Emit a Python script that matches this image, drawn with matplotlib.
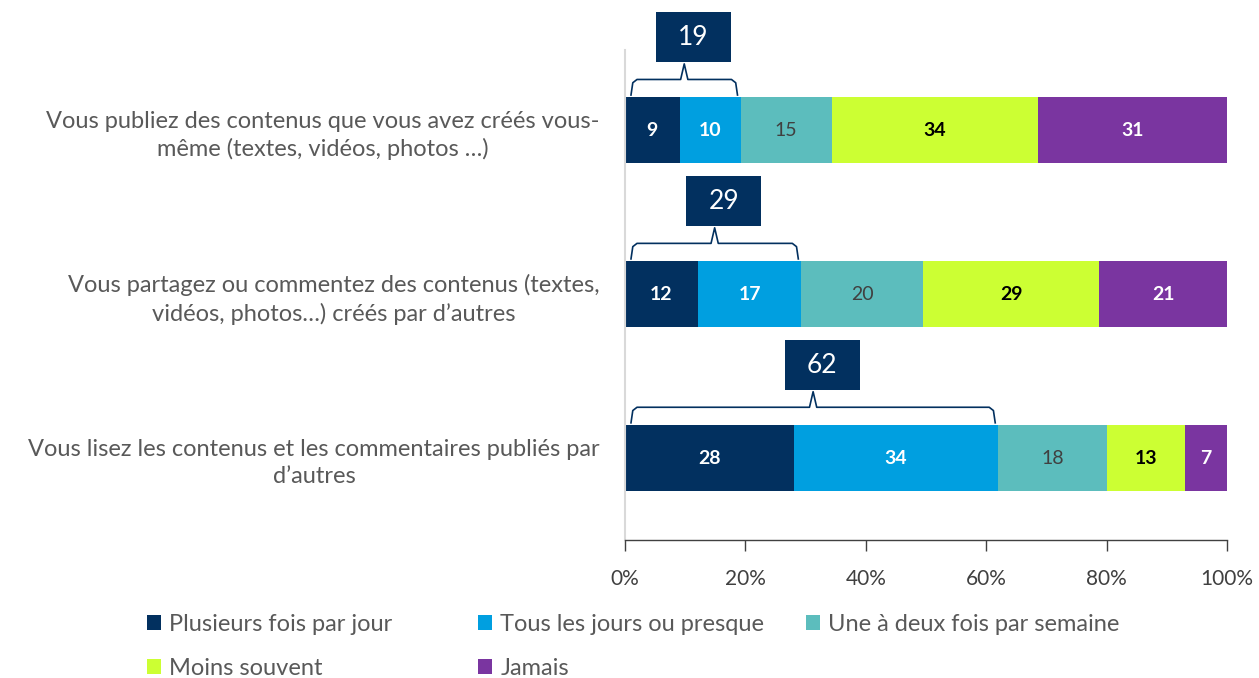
import matplotlib
matplotlib.use("Agg")
import matplotlib.pyplot as plt
from matplotlib.patches import Patch, Rectangle
from matplotlib.ticker import FuncFormatter

plt.rcParams['font.family'] = ['Lato', 'DejaVu Sans']

categories = [
    "Vous publiez des contenus que vous avez créés vous-\nmême (textes, vidéos, photos …)",
    "Vous partagez ou commentez des contenus (textes,\nvidéos, photos…) créés par d’autres",
    "Vous lisez les contenus et les commentaires publiés par\nd’autres",
]
series_names = ["Plusieurs fois par jour", "Tous les jours ou presque",
                "Une à deux fois par semaine", "Moins souvent", "Jamais"]
plusieurs = [9, 12, 28]
tous_jours = [10, 17, 34]
hebdo = [15, 20, 18]
moins = [34, 29, 13]
jamais = [31, 21, 7]
totals = [19, 29, 62]
xticks = [0, 20, 40, 60, 80, 100]

colors = ["#02305F", "#009FE0", "#5CBDBD", "#CCFF33", "#7A35A0"]
label_colors = ["white", "white", "#404040", "black", "white"]
label_weights = ["bold", "bold", "normal", "bold", "bold"]

fig = plt.figure(figsize=(12.59, 6.78), dpi=100)
ax = fig.add_axes([0.4964, 0.2035, 0.4782, 0.7228])

ypos = list(range(len(categories)))
series = [plusieurs, tous_jours, hebdo, moins, jamais]
row_sums = [sum(s[i] for s in series) for i in ypos]
left = [0.0] * len(categories)
for vals, col, lc, lw in zip(series, colors, label_colors, label_weights):
    widths = [v / rs * 100 for v, rs in zip(vals, row_sums)]
    bars = ax.barh(ypos, widths, left=left, height=0.4, color=col, edgecolor='none')
    for b, v in zip(bars, vals):
        ax.text(b.get_x() + b.get_width() / 2, b.get_y() + b.get_height() / 2, str(v),
                ha='center', va='center', color=lc, fontsize=14, fontweight=lw)
    left = [l + w for l, w in zip(left, widths)]

# brackets with total boxes
c = "#02305F"
for y, tot, p1, p2, rs in zip(ypos, totals, plusieurs, tous_jours, row_sums):
    xend = (p1 + p2) / rs * 100
    x0, x1 = 1.0, xend - 0.5
    xm = (x0 + x1) / 2
    yend = y - 0.215
    yh = y - 0.31
    ypk = y - 0.405
    ax.plot([x0, x0 + 0.3, x0 + 1.0, xm - 0.6, xm, xm + 0.6, x1 - 1.0, x1 - 0.3, x1],
            [yend, yh + 0.02, yh, yh, ypk, yh, yh, yh + 0.02, yend],
            color=c, lw=1.2, solid_joinstyle='round', clip_on=False)
    bx = xm + 1.5
    ax.add_patch(Rectangle((bx - 6.25, y - 0.567 - 0.152), 12.5, 0.305,
                           facecolor=c, edgecolor='none', clip_on=False))
    ax.text(bx, y - 0.567, str(tot), ha='center', va='center', color='white',
            fontsize=19, clip_on=False)

ax.set_ylim(2.5, -0.49)
ax.set_xlim(0, 100)
ax.set_yticks(ypos)
ax.set_yticklabels(categories, fontsize=17, color="#595959", ha='right',
                   multialignment='center', linespacing=1.35)
ax.tick_params(axis='y', length=0, pad=18)
ax.set_xticks(xticks)
ax.xaxis.set_major_formatter(FuncFormatter(lambda v, p: f"{int(v)}%"))
ax.tick_params(axis='x', length=8, width=1, color="#404040", labelsize=15,
               labelcolor="#404040", pad=13)
for s in ['top', 'right']:
    ax.spines[s].set_visible(False)
ax.spines['left'].set_color("#D9D9D9")
ax.spines['left'].set_linewidth(1.5)
ax.spines['bottom'].set_color("#404040")
ax.spines['bottom'].set_linewidth(1)

handles = [Patch(facecolor=col, edgecolor='none', label=n) for col, n in zip(colors, series_names)]
groups = [([handles[0], handles[3]], 147 / 1259), ([handles[1], handles[4]], 478 / 1259),
          ([handles[2]], 806 / 1259)]
for hs, xpos in groups:
    fig.legend(handles=hs, loc='upper left', bbox_to_anchor=(xpos, 0.095),
               frameon=False, fontsize=17, labelcolor="#595959", handlelength=0.6,
               handleheight=0.6, handletextpad=0.35, labelspacing=1.0, borderaxespad=0,
               borderpad=0)

fig.savefig("out.png", dpi=100)
